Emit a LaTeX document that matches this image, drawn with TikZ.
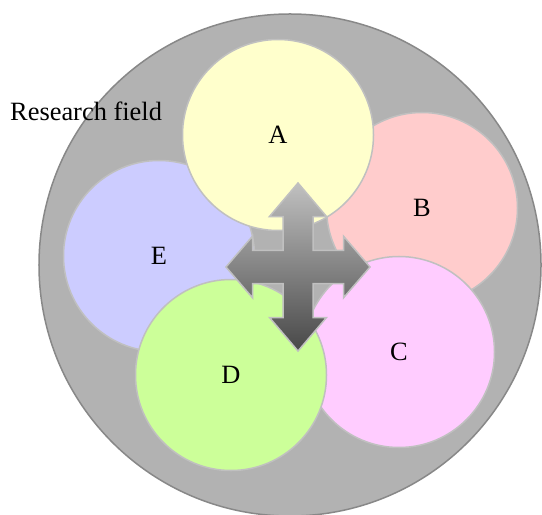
\documentclass[tikz,border=0pt]{standalone}
\usepackage{fontspec}
\setmainfont{Liberation Serif}
\usetikzlibrary{positioning}
\definecolor{fieldgray}{RGB}{178,178,178}
\definecolor{fieldedge}{RGB}{136,136,136}
\definecolor{ringedge}{RGB}{192,192,192}
\definecolor{areaA}{RGB}{255,255,204}
\definecolor{areaB}{RGB}{255,204,204}
\definecolor{areaC}{RGB}{255,204,255}
\definecolor{areaD}{RGB}{204,255,153}
\definecolor{areaE}{RGB}{204,204,255}
\newcommand{\bigtext}{\fontsize{26.5}{30}\selectfont}
\tikzset{
  area/.style={circle, draw=ringedge, line width=1.5bp, minimum size=191bp,
    inner sep=0pt, font=\bigtext},
  cross/.style={draw=ringedge, line width=1.5bp, line join=miter,
    top color={rgb,255:red,192;green,192;blue,192},
    bottom color={rgb,255:red,72;green,72;blue,72}}
}

\begin{document}
\begin{tikzpicture}[x=1bp, y=-1bp]
\useasboundingbox (0,0) rectangle (542,515);
\node[circle, fill=fieldgray, draw=fieldedge, line width=1.5bp,
  minimum size=502bp, inner sep=0pt] (field) at (290,265) {};
\node[area, fill=areaB] (B) at (422,208) {B};
\node[area, fill=areaE] (E) at (159,256) {E};
\node[area, fill=areaC] (C) at (399,352) {C};
\node[area, fill=areaD] (D) at (231,375) {D};
\node[area, fill=areaA] (A) at (278,135) {A};
\node[anchor=base west, inner sep=0pt, font=\bigtext] (fieldname) at (10,121) {Research field};
% four-way arrow in the middle
\begin{scope}[shift={(298,267)}]
\shadedraw[cross] (0,-84) -- (28.5,-50.5) -- (15,-50.5) -- (15,-16.7)
  -- (45.5,-16.7) -- (45.5,-30.8) -- (72,0) -- (45.5,30.8) -- (45.5,16.7)
  -- (15,16.7) -- (15,50.5) -- (28.5,50.5) -- (0,84) -- (-28.5,50.5)
  -- (-15,50.5) -- (-15,16.7) -- (-45.5,16.7) -- (-45.5,30.8) -- (-72,0)
  -- (-45.5,-30.8) -- (-45.5,-16.7) -- (-15,-16.7) -- (-15,-50.5)
  -- (-28.5,-50.5) -- cycle;
\end{scope}
\end{tikzpicture}
\end{document}
